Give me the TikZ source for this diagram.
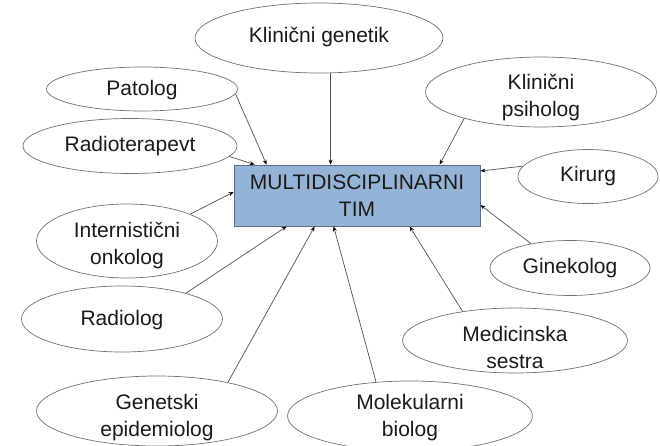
\documentclass[tikz,border=0pt]{standalone}
\usepackage{fontspec}
\setmainfont{Liberation Sans}
\usetikzlibrary{shapes.geometric,arrows.meta}
\definecolor{ellgray}{HTML}{707070}
\definecolor{lngray}{HTML}{505050}
\definecolor{txt}{HTML}{1A1A1A}
\definecolor{boxfill}{HTML}{95B3D7}
\definecolor{boxline}{HTML}{5F6F85}
\begin{document}
\begin{tikzpicture}[x=1pt,y=-1pt,
  oval/.style={ellipse,draw=ellgray,line width=0.7pt,inner sep=0pt},
  lbl/.style={inner sep=0pt,align=center,font=\fontsize{21}{27}\selectfont,text=txt},
  hub/.style={rectangle,draw=boxline,fill=boxfill,line width=0.8pt,inner sep=0pt,align=center,
    font=\fontsize{21}{27}\selectfont,text=txt},
  link/.style={draw=lngray,line width=0.7pt,-{Stealth[length=5pt,width=4pt,color=black]}}
]
\useasboundingbox (0,0) rectangle (660,446);

\node[hub,minimum width=246pt,minimum height=61pt] (tim) at (357,195.5) {MULTIDISCIPLINARNI\\TIM};

\node[oval,minimum width=248pt,minimum height=70pt] (gen) at (319,38) {};
\node[oval,minimum width=191pt,minimum height=44pt] (pat) at (142,89) {};
\node[oval,minimum width=214pt,minimum height=55pt] (rad) at (130,146) {};
\node[oval,minimum width=231pt,minimum height=70pt] (psi) at (541,92) {};
\node[oval,minimum width=140pt,minimum height=54pt] (kir) at (588,176.5) {};
\node[oval,minimum width=181pt,minimum height=74pt] (onk) at (127,241) {};
\node[oval,minimum width=160pt,minimum height=55pt] (gin) at (570,268) {};
\node[oval,minimum width=201pt,minimum height=66pt] (rdl) at (122,319) {};
\node[oval,minimum width=225pt,minimum height=65pt] (ses) at (515,340.5) {};
\node[oval,minimum width=241pt,minimum height=70pt] (epi) at (157,411) {};
\node[oval,minimum width=245pt,minimum height=70pt] (mol) at (410,416) {};

\node[lbl] (gen-t) at (319,37) {Klinični genetik};
\node[lbl] (pat-t) at (142,90) {Patolog};
\node[lbl] (rad-t) at (130,146) {Radioterapevt};
\node[lbl] (psi-t) at (541,98) {Klinični\\psiholog};
\node[lbl] (kir-t) at (588,176) {Kirurg};
\node[lbl] (onk-t) at (127,246) {Internistični\\onkolog};
\node[lbl] (gin-t) at (570,268) {Ginekolog};
\node[lbl] (rdl-t) at (122,320) {Radiolog};
\node[lbl] (ses-t) at (515,347) {Medicinska\\sestra};
\node[lbl] (epi-t) at (157,418) {Genetski\\epidemiolog};
\node[lbl] (mol-t) at (410,418) {Molekularni\\biolog};

\draw[link] (gen.-72.6) -- ([xshift=97pt]tim.north west);
\draw[link] (pat.-3) -- ([xshift=33pt]tim.north west);
\draw[link] (rad.-6.3) -- ([xshift=21pt]tim.north west);
\draw[link] (psi.199.3) -- ([xshift=206pt]tim.north west);
\draw[link] (kir.171) -- ([yshift=24.5pt]tim.east);
\draw[link] (onk.23.7) -- ([yshift=3.5pt]tim.west);
\draw[link] (gin.148.8) -- ([yshift=-9.5pt]tim.east);
\draw[link] (rdl.22.6) -- ([xshift=53pt]tim.south west);
\draw[link] (epi.22.3) -- ([xshift=81pt]tim.south west);
\draw[link] (mol.135.8) -- ([xshift=100pt]tim.south west);
\draw[link] (ses.151.3) -- ([xshift=176pt]tim.south west);
\end{tikzpicture}
\end{document}
